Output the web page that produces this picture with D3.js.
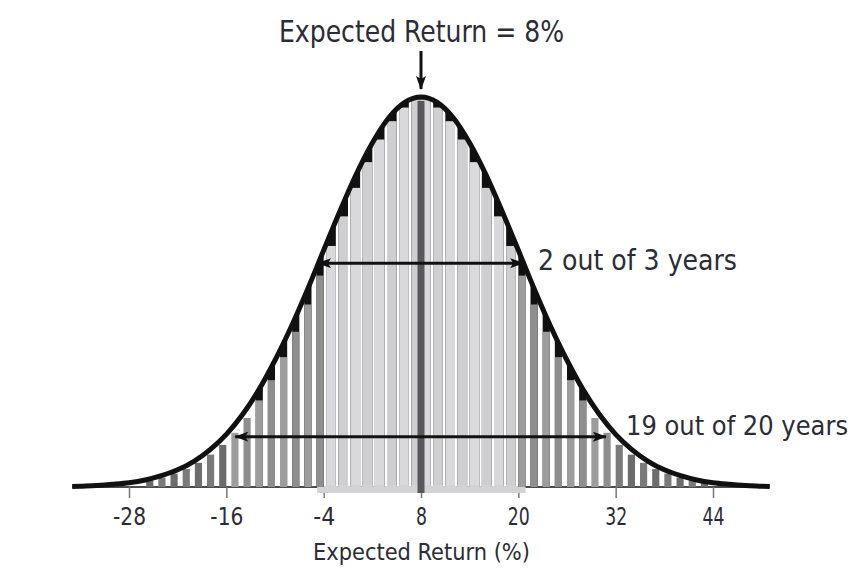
<!DOCTYPE html>
<html>
<head>
<meta charset="utf-8">
<script src="https://cdn.jsdelivr.net/npm/d3@7"></script>
<style>
  body { margin: 0; background: #fff; }
  text { font-family: "Liberation Sans Narrow", "DejaVu Sans Condensed", "Arial Narrow", sans-serif; fill: #2c2c36; }
</style>
</head>
<body>
<script>
// tick labels on the return axis
var tickValues = [-28, -16, -4, 8, 20, 32, 44];

// the bell curve (return %, height as % of the peak)
var curveX = [-35, -34, -32, -30, -28, -26, -24, -22, -20, -18, -16, -14, -12, -10, -8, -6, -4, -2, 0, 2, 4, 6, 8,
              10, 12, 14, 16, 18, 20, 22, 24, 26, 28, 30, 32, 34, 36, 38, 40, 42, 44, 46, 48, 50, 51];
var curveY = [0.1, 0.2, 0.4, 0.7, 1.1, 1.8, 2.9, 4.4, 6.6, 9.6, 13.5, 18.6, 24.9, 32.5, 41.1, 50.6, 60.7, 70.7, 80.1, 88.2, 94.6, 98.6, 100,
              98.6, 94.6, 88.2, 80.1, 70.7, 60.7, 50.6, 41.1, 32.5, 24.9, 18.6, 13.5, 9.6, 6.6, 4.4, 2.9, 1.8, 1.1, 0.7, 0.4, 0.2, 0.1];

// histogram bars: left edge of each bin and its height
var binStart = [-26.5, -25, -23.5, -22, -20.5, -19, -17.5, -16, -14.5, -13, -11.5, -10, -8.5, -7, -5.5, -4, -2.5, -1, 0.5, 2, 3.5, 5, 6.5,
                8, 9.5, 11, 12.5, 14, 15.5, 17, 18.5, 20, 21.5, 23, 24.5, 26, 27.5, 29, 30.5, 32, 33.5, 35, 36.5, 38, 39.5, 41, 42.5];
var binHeight = [1.7, 2.4, 3.4, 4.6, 6.2, 8.3, 10.8, 13.9, 17.7, 22.2, 27.4, 33.3, 39.8, 46.8, 54.2, 61.8, 69.4, 76.7, 83.3, 89.1, 93.8, 97.3, 99.4,
                 99.4, 97.3, 93.8, 89.1, 83.3, 76.7, 69.4, 61.8, 54.2, 46.8, 39.8, 33.3, 27.4, 22.2, 17.7, 13.9, 10.8, 8.3, 6.2, 4.6, 3.4, 2.4, 1.7, 1.2];
var binWidth = 1.5;

var expected = 8;
var oneSigma = [-4, 20];

// range arrows: label, height, left tip, right tip
var arrowLabels = ["2 out of 3 years", "19 out of 20 years"];
var arrowLevel = [57.4, 12.9];
var arrowFrom = [-4.7, -14.9];
var arrowTo = [20.6, 30.8];

var width = 866, height = 571;

var svg = d3.select("body").append("svg")
  .attr("width", width)
  .attr("height", height);

var x = d3.scaleLinear().domain([-28, 44]).range([129, 713]);
var y = d3.scaleLinear().domain([0, 100]).range([487, 97]);

var defs = svg.append("defs");
defs.append("marker")
  .attr("id", "head")
  .attr("viewBox", "0 0 14 10")
  .attr("refX", 13).attr("refY", 5)
  .attr("markerWidth", 14).attr("markerHeight", 10)
  .attr("markerUnits", "userSpaceOnUse")
  .attr("orient", "auto-start-reverse")
  .append("path")
  .attr("d", "M0,0 L14,5 L0,10 L3,5 Z")
  .attr("fill", "#111");

var curvePts = curveX.map(function(d, i){ return [d, curveY[i]]; });

var area = d3.area()
  .x(function(d){ return x(d[0]); })
  .y0(y(0))
  .y1(function(d){ return y(d[1]); })
  .curve(d3.curveMonotoneX);

defs.append("clipPath").attr("id", "under")
  .append("path")
  .attr("d", area(curvePts));

// baseline
svg.append("line")
  .attr("x1", x(-35)).attr("x2", x(51))
  .attr("y1", y(0)).attr("y2", y(0))
  .attr("stroke", "#111").attr("stroke-width", 1.5);

// axis ticks + labels
var axis = svg.append("g")
  .attr("transform", "translate(0," + y(0) + ")")
  .call(d3.axisBottom(x).tickValues(tickValues).tickSize(11).tickFormat(function(d){ return String(d); }));
axis.select(".domain").remove();
axis.selectAll(".tick line").attr("stroke", "#777").attr("stroke-width", 1.5);
axis.selectAll(".tick text")
  .attr("y", 38).attr("dy", 0)
  .style("font-size", "24px")
  .attr("textLength", function(d){ return String(d).length * 11; })
  .attr("lengthAdjust", "spacingAndGlyphs")
  .attr("fill", "#2c2c36");

// light band under the one-sigma region
svg.append("rect")
  .attr("x", x(oneSigma[0] - 0.8)).attr("width", x(oneSigma[1] + 0.9) - x(oneSigma[0] - 0.8))
  .attr("y", y(0) - 1).attr("height", 7)
  .attr("fill", "#d3d3d5");

var bars = svg.append("g").attr("clip-path", "url(#under)");
var step = x(binWidth) - x(0);

function inCenter(s){ return s >= oneSigma[0] && s < oneSigma[1]; }
function barW(s){ return inCenter(s) ? step - 2.5 : step - 5; }
// bars left of the mean hug the inner (right) edge of their bin, the others the left edge
function barX(s){ return s < expected ? x(s) + step - barW(s) : x(s); }
function barColor(s, i){
  if (inCenter(s)) return i % 2 ? "#d9d9db" : "#cfcfd1";
  if (Math.abs(s + binWidth / 2 - expected) > 24) return i % 2 ? "#7a7a7a" : "#6c6c6c";
  return i % 2 ? "#9d9d9d" : "#8e8e8e";
};

// black backing shows as the saw-tooth between bar tops and the curve
bars.selectAll("rect.back")
  .data(binStart.filter(function(d){ return d > -14 && d < 28; }))
  .enter().append("rect")
  .attr("class", "back")
  .attr("x", function(d){ return barX(d); })
  .attr("width", function(d){ return barW(d); })
  .attr("y", y(100) - 5)
  .attr("height", y(0) - y(100) + 5)
  .attr("fill", "#111");

bars.selectAll("rect.bar")
  .data(binStart)
  .enter().append("rect")
  .attr("class", "bar")
  .attr("x", function(d){ return barX(d); })
  .attr("width", function(d){ return barW(d); })
  .attr("y", function(d, i){ return y(binHeight[i]); })
  .attr("height", function(d, i){ return y(0) - y(binHeight[i]); })
  .attr("fill", function(d, i){ return barColor(d, i); });

// center bars run down into the band
svg.selectAll("rect.foot")
  .data(binStart.filter(inCenter))
  .enter().append("rect")
  .attr("x", function(d){ return barX(d); })
  .attr("width", function(d){ return barW(d); })
  .attr("y", y(0) - 2).attr("height", 8)
  .attr("fill", "#d3d3d5");

// expected return line
svg.append("rect")
  .attr("x", x(expected) - 3.5).attr("width", 7)
  .attr("y", y(99)).attr("height", y(0) + 6 - y(99))
  .attr("fill", "#58585c");

// bell curve
svg.append("path")
  .attr("d", d3.line()
    .x(function(d){ return x(d[0]); })
    .y(function(d){ return y(d[1]); })
    .curve(d3.curveMonotoneX)(curvePts))
  .attr("fill", "none")
  .attr("stroke", "#111")
  .attr("stroke-width", 5);

// range arrows and labels
arrowLabels.forEach(function(lbl, i){
  svg.append("line")
    .attr("x1", x(arrowFrom[i])).attr("x2", x(arrowTo[i]))
    .attr("y1", y(arrowLevel[i])).attr("y2", y(arrowLevel[i]))
    .attr("stroke", "#111").attr("stroke-width", 3)
    .attr("marker-start", "url(#head)")
    .attr("marker-end", "url(#head)");
});

svg.append("text")
  .attr("x", 538).attr("y", 270)
  .style("font-size", "29px")
  .attr("textLength", 199).attr("lengthAdjust", "spacingAndGlyphs")
  .text(arrowLabels[0]);

svg.append("text")
  .attr("x", 626).attr("y", 435)
  .style("font-size", "27px")
  .attr("textLength", 222).attr("lengthAdjust", "spacingAndGlyphs")
  .text(arrowLabels[1]);

// top label
svg.append("text")
  .attr("x", x(expected) - 142).attr("y", 42)
  .style("font-size", "31px")
  .attr("textLength", 285).attr("lengthAdjust", "spacingAndGlyphs")
  .text("Expected Return = " + expected + "%");

svg.append("line")
  .attr("x1", x(expected)).attr("x2", x(expected))
  .attr("y1", 51).attr("y2", 89)
  .attr("stroke", "#111").attr("stroke-width", 3)
  .attr("marker-end", "url(#head)");

// axis title
svg.append("text")
  .attr("x", 313).attr("y", 560)
  .style("font-size", "23px")
  .attr("textLength", 217).attr("lengthAdjust", "spacingAndGlyphs")
  .text("Expected Return (%)");
</script>
</body>
</html>
